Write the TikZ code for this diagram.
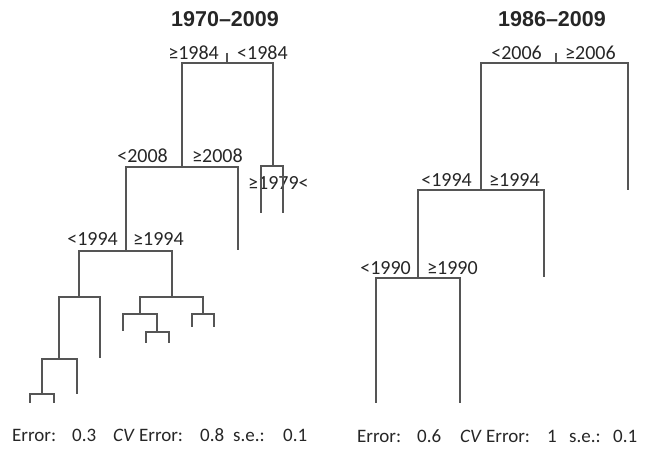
\documentclass[tikz,border=0pt]{standalone}
\usepackage{fontspec}
\setmainfont{Carlito}
\newfontfamily\headfont{Liberation Sans}
\usepackage{xcolor}
\definecolor{linegray}{HTML}{555555}
\definecolor{txtgray}{HTML}{262626}

\begin{document}
\begin{tikzpicture}[
  x=1pt, y=-1pt,
  branch/.style={draw=linegray, line width=1.2pt},
  lab/.style={inner sep=0pt, text=txtgray, font=\fontsize{20}{20}\selectfont},
  foot/.style={inner sep=0pt, text=txtgray, font=\fontsize{19}{19}\selectfont},
  ttl/.style={inner sep=0pt, text=txtgray, font=\headfont\bfseries\fontsize{21.5}{21.5}\selectfont}]
\useasboundingbox (0,0) rectangle (649,449);

% left tree: 1970-2009
\node[ttl, anchor=base] (t1) at (225,27) {1970–2009};
\coordinate (rt1) at (227,53);
\coordinate (r1) at (227,63);
\coordinate (a) at (182,167);
\coordinate (b) at (273,166);
\coordinate (b1) at (261,213);
\coordinate (b2) at (283,213);
\coordinate (c) at (126,251);
\coordinate (a2) at (238,250);
\coordinate (d) at (79,297);
\coordinate (e) at (172,297);
\coordinate (f) at (59,359);
\coordinate (d2) at (100,358);
\coordinate (g) at (42,394);
\coordinate (f2) at (77,394);
\coordinate (g1) at (30,403);
\coordinate (g2) at (54,403);
\coordinate (h) at (140,314);
\coordinate (i) at (203,314);
\coordinate (h1) at (123,331);
\coordinate (j) at (157,332);
\coordinate (j1) at (146,343);
\coordinate (j2) at (169,343);
\coordinate (i1) at (192,327);
\coordinate (i2) at (214,327);

\node[lab, anchor=base east] (ge1984) at (219,60) {≥1984};
\node[lab, anchor=base west] (lt1984) at (237,60) {<1984};
\node[lab, anchor=base east] (lt2008) at (168,163) {<2008};
\node[lab, anchor=base west] (ge2008) at (192,163) {≥2008};
\node[lab, anchor=base west] (ge1979) at (248,190) {≥1979<};
\node[lab, anchor=base east] (lt1994a) at (118,246) {<1994};
\node[lab, anchor=base west] (ge1994a) at (133,246) {≥1994};

% right tree: 1986-2009
\node[ttl, anchor=base] (t2) at (552,27) {1986–2009};
\coordinate (rt2) at (556,53);
\coordinate (r2) at (556,63);
\coordinate (k) at (481,190);
\coordinate (k2) at (628,190);
\coordinate (l) at (418,278);
\coordinate (l2) at (544,277);
\coordinate (l1) at (376,403);
\coordinate (l3) at (460,403);

\node[lab, anchor=base east] (lt2006) at (542,60) {<2006};
\node[lab, anchor=base west] (ge2006) at (565,60) {≥2006};
\node[lab, anchor=base east] (lt1994b) at (472,187) {<1994};
\node[lab, anchor=base west] (ge1994b) at (489,187) {≥1994};
\node[lab, anchor=base east] (lt1990) at (411,275) {<1990};
\node[lab, anchor=base west] (ge1990) at (427,275) {≥1990};

\draw[branch] (rt1) -- (r1);
\draw[branch] (rt2) -- (r2);
\foreach \p/\q in {r1/a,r1/b,a/c,a/a2,b/b1,b/b2,c/d,c/e,d/f,d/d2,f/g,f/f2,g/g1,g/g2,
                   e/h,e/i,h/h1,h/j,j/j1,j/j2,i/i1,i/i2,
                   r2/k,r2/k2,k/l,k/l2,l/l1,l/l3}
  \draw[branch] (\p) -| (\q);

% error lines
\node[foot, anchor=base west] (err1) at (12,442) {Error:};
\node[foot, anchor=base west] (errv1) at (72,442) {0.3};
\node[foot, anchor=base west] (cv1) at (113,442) {\textit{CV} Error:};
\node[foot, anchor=base west] (cvv1) at (200,442) {0.8};
\node[foot, anchor=base west] (se1) at (233,442) {s.e.:};
\node[foot, anchor=base west] (sev1) at (283,442) {0.1};
\node[foot, anchor=base west] (err2) at (357,443) {Error:};
\node[foot, anchor=base west] (errv2) at (417,443) {0.6};
\node[foot, anchor=base west] (cv2) at (460,443) {\textit{CV} Error:};
\node[foot, anchor=base west] (cvv2) at (547,443) {1};
\node[foot, anchor=base west] (se2) at (569,443) {s.e.:};
\node[foot, anchor=base west] (sev2) at (613,443) {0.1};
\end{tikzpicture}
\end{document}
